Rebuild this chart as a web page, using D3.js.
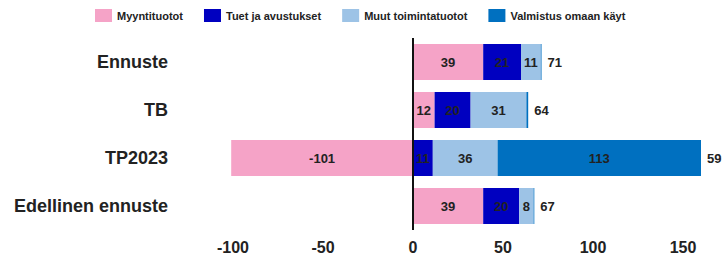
<!DOCTYPE html>
<html>
<head>
<meta charset="utf-8">
<script src="https://cdn.jsdelivr.net/npm/d3@7"></script>
<style>
    body { margin: 0; background: #fff; }
    svg { display: block; font-family: "Liberation Sans", Arial, sans-serif; }
</style>
</head>
<body>
<div id="chart"></div>
<script>
// Chart data
const categories = ['Ennuste', 'TB', 'TP2023', 'Edellinen ennuste'];
const seriesNames = ['Myyntituotot', 'Tuet ja avustukset', 'Muut toimintatuotot', 'Valmistus omaan käyt'];
const myyntituotot = [39, 12, -101, 39];
const tuet = [21, 20, 11, 20];
const muut = [11, 31, 36, 8];
const valmistus = [0.4, 1, 113, 0.4];
const xTicks = [-100, -50, 0, 50, 100, 150];
const colors = ['#f5a3c7', '#0000c0', '#9dc3e6', '#0070c0'];

const width = 722, height = 257;
const series = [myyntituotot, tuet, muut, valmistus];

const svg = d3.select('#chart').append('svg')
    .attr('width', width)
    .attr('height', height);

const x = d3.scaleLinear()
    .domain([-100, 150])
    .range([233, 683]);

const y = d3.scaleBand()
    .domain(categories)
    .range([38, 230])
    .paddingInner(0.25)
    .paddingOuter(0.125);

// Build stacked segments (negatives go left of zero)
let segments = [];
categories.forEach((c, i) => {
    let pos = 0, neg = 0;
    series.forEach((s, k) => {
        let v = s[i];
        let x0, x1;
        if (v >= 0) { x0 = pos; x1 = pos + v; pos = x1; }
        else { x1 = neg; x0 = neg + v; neg = x0; }
        segments.push({cat: c, k: k, v: v, x0: x0, x1: x1});
    });
});

// Bars
svg.append('g').selectAll('rect')
    .data(segments)
    .enter().append('rect')
    .attr('x', d => x(d.x0))
    .attr('width', d => x(d.x1) - x(d.x0))
    .attr('y', d => y(d.cat))
    .attr('height', y.bandwidth())
    .attr('fill', d => colors[d.k]);

// Segment labels
svg.append('g').selectAll('text')
    .data(segments.filter(d => Math.abs(d.v) >= 3))
    .enter().append('text')
    .attr('x', d => (x(d.x0) + x(d.x1)) / 2)
    .attr('y', d => y(d.cat) + y.bandwidth() / 2)
    .attr('dy', '0.35em')
    .attr('text-anchor', 'middle')
    .attr('font-size', 13)
    .attr('font-weight', 'bold')
    .attr('fill', '#222')
    .text(d => Math.round(d.v));

// Totals right of each bar
svg.append('g').selectAll('text')
    .data(categories)
    .enter().append('text')
    .attr('x', (c, i) => x(d3.sum(series, s => Math.max(0, s[i]))) + 6)
    .attr('y', c => y(c) + y.bandwidth() / 2)
    .attr('dy', '0.35em')
    .attr('font-size', 13)
    .attr('font-weight', 'bold')
    .attr('fill', '#222')
    .text((c, i) => Math.round(d3.sum(series, s => s[i])));

// Category labels
svg.append('g').selectAll('text')
    .data(categories)
    .enter().append('text')
    .attr('x', 168)
    .attr('y', c => y(c) + y.bandwidth() / 2)
    .attr('dy', '0.35em')
    .attr('text-anchor', 'end')
    .attr('font-size', 18)
    .attr('font-weight', 'bold')
    .attr('fill', '#222')
    .text(c => c);

// Zero line
svg.append('line')
    .attr('x1', x(0)).attr('x2', x(0))
    .attr('y1', 38).attr('y2', 230)
    .attr('stroke', '#111')
    .attr('stroke-width', 2);

// X tick labels
svg.append('g').selectAll('text')
    .data(xTicks)
    .enter().append('text')
    .attr('x', d => x(d))
    .attr('y', 247)
    .attr('dy', '0.35em')
    .attr('text-anchor', 'middle')
    .attr('font-size', 16)
    .attr('font-weight', 'bold')
    .attr('fill', '#222')
    .text(d => d);

// Legend
let legend = svg.append('g').attr('class', 'legend');
let lx = 95;
seriesNames.forEach((name, k) => {
    legend.append('rect')
        .attr('x', lx).attr('y', 9)
        .attr('width', 17).attr('height', 13)
        .attr('fill', colors[k]);
    let t = legend.append('text')
        .attr('x', lx + 22).attr('y', 16)
        .attr('dy', '0.35em')
        .attr('font-size', 11)
        .attr('font-weight', 'bold')
        .attr('fill', '#222')
        .text(name);
    lx += 22 + t.node().getComputedTextLength() + 21;
});
</script>
</body>
</html>
